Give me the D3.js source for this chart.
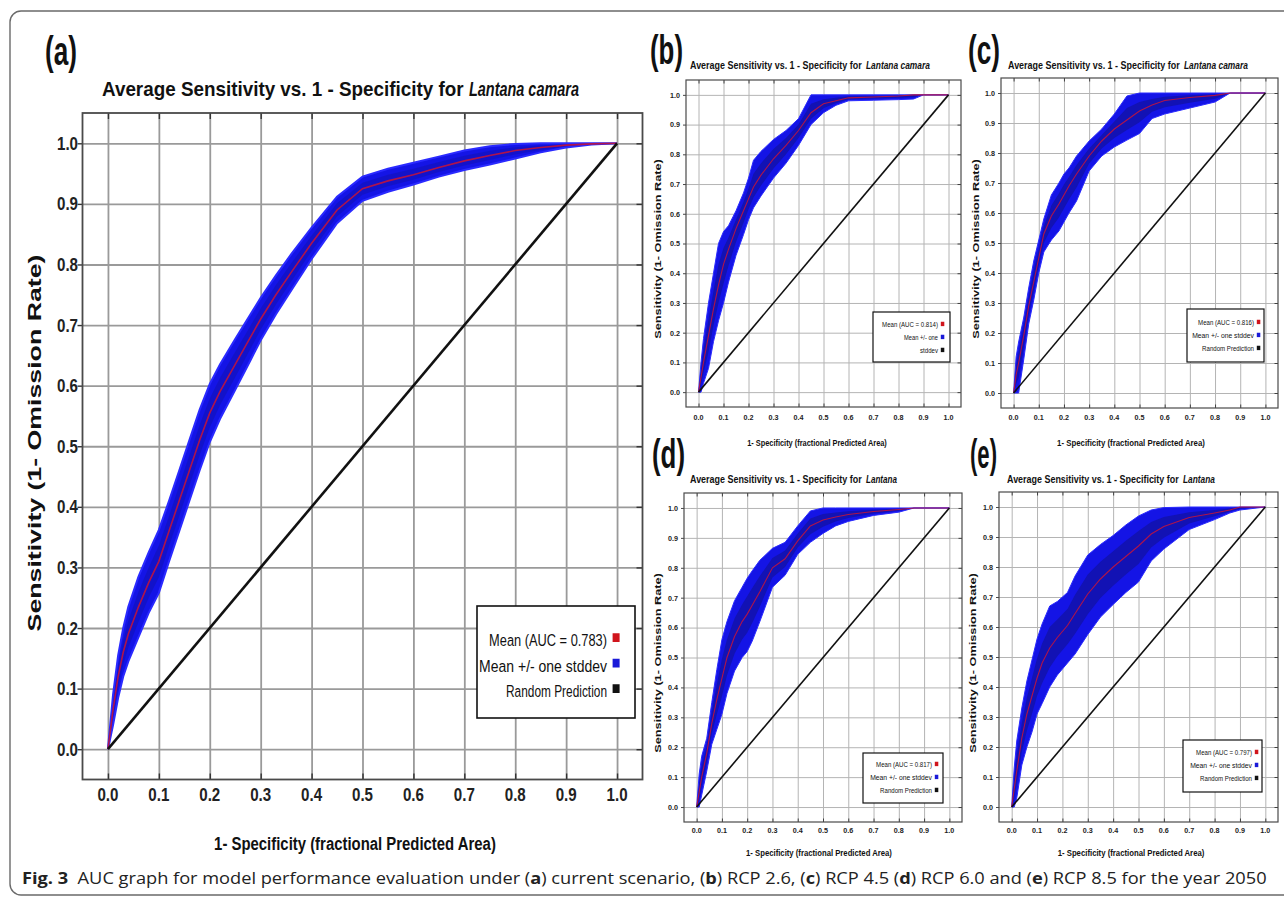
<!DOCTYPE html>
<html>
<head>
<meta charset="utf-8">
<script src="https://cdn.jsdelivr.net/npm/d3@7"></script>
<style>
body { margin: 0; background: #fff; }
svg text { font-family: "Liberation Sans", Arial, sans-serif; }
</style>
</head>
<body>
<svg id="fig" width="1284" height="902"></svg>
<script>
// tick values shared by every panel
var tickVals = [0, 0.1, 0.2, 0.3, 0.4, 0.5, 0.6, 0.7, 0.8, 0.9, 1.0];

// (a) current scenario
var xA    = [0, 0.01, 0.02, 0.03, 0.04, 0.06, 0.08, 0.1, 0.12, 0.14, 0.16, 0.18, 0.2, 0.22, 0.25, 0.28, 0.3, 0.33, 0.36, 0.4, 0.45, 0.5, 0.55, 0.6, 0.65, 0.7, 0.75, 0.8, 0.85, 0.9, 0.95, 1.0];
var meanA = [0, 0.065, 0.12, 0.16, 0.19, 0.235, 0.275, 0.31, 0.36, 0.41, 0.46, 0.51, 0.555, 0.59, 0.635, 0.68, 0.71, 0.75, 0.787, 0.835, 0.89, 0.925, 0.938, 0.948, 0.96, 0.971, 0.98, 0.988, 0.993, 0.997, 0.999, 1.0];
var hiA   = [0, 0.09, 0.155, 0.2, 0.235, 0.285, 0.325, 0.362, 0.41, 0.46, 0.51, 0.56, 0.603, 0.635, 0.677, 0.718, 0.745, 0.782, 0.817, 0.861, 0.912, 0.945, 0.958, 0.968, 0.978, 0.988, 0.995, 0.999, 1, 1, 1, 1];
var loA   = [0, 0.04, 0.085, 0.12, 0.145, 0.185, 0.225, 0.258, 0.31, 0.36, 0.41, 0.46, 0.507, 0.545, 0.593, 0.642, 0.675, 0.718, 0.757, 0.809, 0.868, 0.905, 0.92, 0.932, 0.945, 0.956, 0.965, 0.975, 0.985, 0.993, 0.998, 1];

// x grid used for the four small panels
var xS = [0, 0.01, 0.02, 0.04, 0.06, 0.08, 0.1, 0.12, 0.15, 0.18, 0.2, 0.22, 0.25, 0.3, 0.35, 0.4, 0.45, 0.5, 0.55, 0.6, 0.7, 0.8, 0.86, 0.9, 1.0];

// (b) RCP 2.6
var meanB = [0, 0.05, 0.1, 0.19, 0.28, 0.36, 0.43, 0.48, 0.55, 0.61, 0.65, 0.69, 0.73, 0.785, 0.83, 0.88, 0.94, 0.97, 0.98, 0.99, 0.993, 0.996, 1, 1, 1];
var hiB   = [0, 0.1, 0.18, 0.3, 0.4, 0.5, 0.54, 0.56, 0.61, 0.67, 0.72, 0.78, 0.81, 0.85, 0.88, 0.92, 1, 1, 1, 1, 1, 1, 1, 1, 1];
var loB   = [0, 0, 0.03, 0.08, 0.17, 0.24, 0.3, 0.37, 0.46, 0.53, 0.58, 0.62, 0.66, 0.72, 0.77, 0.83, 0.9, 0.94, 0.965, 0.98, 0.982, 0.984, 0.986, 1, 1];

// (c) RCP 4.5
var meanC = [0, 0.06, 0.1, 0.19, 0.29, 0.37, 0.45, 0.53, 0.59, 0.63, 0.66, 0.69, 0.73, 0.79, 0.84, 0.88, 0.91, 0.94, 0.96, 0.975, 0.985, 0.992, 1, 1, 1];
var hiC   = [0, 0.12, 0.17, 0.25, 0.35, 0.44, 0.51, 0.58, 0.66, 0.7, 0.73, 0.75, 0.79, 0.84, 0.88, 0.93, 0.99, 1, 1, 1, 1, 1, 1, 1, 1];
var loC   = [0, 0, 0, 0.11, 0.23, 0.31, 0.4, 0.47, 0.51, 0.54, 0.57, 0.6, 0.64, 0.74, 0.79, 0.82, 0.843, 0.865, 0.915, 0.93, 0.95, 0.97, 1, 1, 1];

// (d) RCP 6.0
var meanD = [0, 0.05, 0.1, 0.18, 0.28, 0.36, 0.43, 0.5, 0.57, 0.62, 0.645, 0.675, 0.72, 0.8, 0.83, 0.89, 0.94, 0.96, 0.97, 0.978, 0.988, 0.995, 1, 1, 1];
var hiD   = [0, 0.11, 0.17, 0.23, 0.35, 0.46, 0.56, 0.62, 0.69, 0.735, 0.765, 0.79, 0.825, 0.865, 0.885, 0.94, 0.99, 1, 1, 1, 1, 1, 1, 1, 1];
var loD   = [0, 0, 0.04, 0.12, 0.21, 0.26, 0.31, 0.38, 0.455, 0.5, 0.52, 0.555, 0.62, 0.735, 0.775, 0.845, 0.885, 0.915, 0.94, 0.955, 0.975, 0.986, 1, 1, 1];

// (e) RCP 8.5
var meanE = [0, 0.06, 0.12, 0.23, 0.31, 0.37, 0.43, 0.48, 0.53, 0.565, 0.585, 0.605, 0.645, 0.71, 0.76, 0.8, 0.835, 0.87, 0.91, 0.935, 0.965, 0.98, 0.99, 1, 1];
var hiE   = [0, 0.13, 0.22, 0.33, 0.42, 0.49, 0.56, 0.61, 0.67, 0.685, 0.7, 0.715, 0.77, 0.84, 0.875, 0.905, 0.94, 0.97, 0.99, 0.998, 1, 1, 1, 1, 1];
var loE   = [0, 0, 0.03, 0.14, 0.2, 0.25, 0.31, 0.345, 0.4, 0.44, 0.46, 0.48, 0.51, 0.575, 0.633, 0.675, 0.715, 0.75, 0.82, 0.86, 0.925, 0.958, 0.98, 0.99, 1];

// legend texts
var legendA = ["Mean (AUC = 0.783)", "Mean +/- one  stddev", "Random Prediction"];
var legendB = ["Mean (AUC = 0.814)", "Mean +/- one", "stddev"];
var legendC = ["Mean (AUC = 0.816)", "Mean +/- one  stddev", "Random Prediction"];
var legendD = ["Mean (AUC = 0.817)", "Mean +/- one  stddev", "Random Prediction"];
var legendE = ["Mean (AUC = 0.797)", "Mean +/- one  stddev", "Random Prediction"];
var legendColors = ["#d0141c", "#1a1ad8", "#111111"];

var titleLead = "Average Sensitivity vs. 1 - Specificity for";
var xTitle = "1- Specificity (fractional Predicted Area)";
var yTitle = "Sensitivity (1- Omission Rate)";

var svg = d3.select("#fig");

// squeeze a text horizontally to a given width (the source uses a narrow face)
function squeeze(sel, x, y, width, anchor, rot) {
    sel.attr("x", 0).attr("y", 0).attr("text-anchor", anchor || "start");
    var nat = sel.node().getComputedTextLength();
    var k = width / nat;
    sel.attr("transform", "translate(" + x + "," + y + ")" + (rot ? " rotate(-90)" : "") + " scale(" + k + ",1)");
    return sel;
}

// outer rounded frame of the figure
svg.append("rect")
    .attr("x", 10).attr("y", 11)
    .attr("width", 1320).attr("height", 884)
    .attr("rx", 11)
    .attr("fill", "none").attr("stroke", "#6a6a6a").attr("stroke-width", 1.4);

// layout of each panel (frame box + text placement)
var panels = [
    {xs: xA, mean: meanA, hi: hiA, lo: loA, legend: legendA, letter: "(a)", species: "Lantana camara",
     left: 82.5, right: 642.5, top: 113, bottom: 779.5, big: true,
     letterX: 45, letterY: 65, letterW: 32, letterSize: 40,
     titleX: 102, titleY: 96, titleW: 362, italX: 469, italW: 110, titleSize: 21,
     xlabX: 355, xlabY: 850, xlabW: 282, xlabSize: 19,
     ylabX: 35, ylabY: 443, ylabW: 377, ylabSize: 18,
     tickSize: 18, tickW: 21, xTickY: 801, yTickX: 78,
     leg: {x: 477, y: 606, w: 158, h: 112, size: 17, right: 607, sq: 7, line0: 646, dy: 25.5, tw: [118, 128, 101]}},
    {xs: xS, mean: meanB, hi: hiB, lo: loB, legend: legendB, letter: "(b)", species: "Lantana camara",
     left: 686, right: 961, top: 80, bottom: 407,
     letterX: 650, letterY: 64, letterW: 33, letterSize: 40,
     titleX: 690, titleY: 69, titleW: 172, italX: 866, italW: 64, titleSize: 11,
     xlabX: 817, xlabY: 446, xlabW: 140, xlabSize: 9,
     ylabX: 658, ylabY: 249, ylabW: 180, ylabSize: 9,
     tickSize: 8, tickW: 10, xTickY: 420, yTickX: 680,
     leg: {x: 873, y: 312, w: 77, h: 50, size: 7, right: 938, sq: 3.5, line0: 327, dy: 13, tw: [56, 34, 18]}},
    {xs: xS, mean: meanC, hi: hiC, lo: loC, legend: legendC, letter: "(c)", species: "Lantana camara",
     left: 1001, right: 1278, top: 78, bottom: 408,
     letterX: 968, letterY: 64, letterW: 32, letterSize: 40,
     titleX: 1008, titleY: 69, titleW: 172, italX: 1184, italW: 64, titleSize: 11,
     xlabX: 1131, xlabY: 446, xlabW: 148, xlabSize: 9,
     ylabX: 976, ylabY: 249, ylabW: 180, ylabSize: 9,
     tickSize: 8, tickW: 10, xTickY: 420, yTickX: 995,
     leg: {x: 1187, y: 309, w: 77, h: 53, size: 7, right: 1254, sq: 3.5, line0: 325, dy: 13, tw: [56, 62, 52]}},
    {xs: xS, mean: meanD, hi: hiD, lo: loD, legend: legendD, letter: "(d)", species: "Lantana",
     left: 684, right: 962, top: 493, bottom: 822,
     letterX: 652, letterY: 468, letterW: 33, letterSize: 40,
     titleX: 690, titleY: 483, titleW: 172, italX: 866, italW: 31, titleSize: 11,
     xlabX: 819, xlabY: 856, xlabW: 146, xlabSize: 9,
     ylabX: 658, ylabY: 663, ylabW: 180, ylabSize: 9,
     tickSize: 8, tickW: 10, xTickY: 833, yTickX: 678,
     leg: {x: 863, y: 753, w: 80, h: 50, size: 7, right: 932, sq: 3.5, line0: 767, dy: 13, tw: [56, 62, 52]}},
    {xs: xS, mean: meanE, hi: hiE, lo: loE, legend: legendE, letter: "(e)", species: "Lantana",
     left: 999, right: 1278, top: 492, bottom: 822,
     letterX: 970, letterY: 468, letterW: 27, letterSize: 40,
     titleX: 1007, titleY: 483, titleW: 172, italX: 1183, italW: 32, titleSize: 11,
     xlabX: 1131, xlabY: 856, xlabW: 147, xlabSize: 9,
     ylabX: 973, ylabY: 663, ylabW: 180, ylabSize: 9,
     tickSize: 8, tickW: 10, xTickY: 833, yTickX: 993,
     leg: {x: 1183, y: 740, w: 79, h: 52, size: 7, right: 1252, sq: 3.5, line0: 755, dy: 13, tw: [56, 62, 52]}}
];

panels.forEach(drawPanel);

function drawPanel(p) {
    var g = svg.append("g");
    var w = p.right - p.left, h = p.bottom - p.top;
    var x = d3.scaleLinear().domain([-0.05, 1.05]).range([p.left, p.right]);
    var y = d3.scaleLinear().domain([-0.05, 1.05]).range([p.bottom, p.top]);

    g.append("rect").attr("x", p.left).attr("y", p.top).attr("width", w).attr("height", h).attr("fill", "#fff");

    // grid lines
    var gx = g.append("g").attr("transform", "translate(0," + p.bottom + ")")
        .call(d3.axisBottom(x).tickValues(tickVals).tickSize(-h).tickFormat(""));
    var gy = g.append("g").attr("transform", "translate(" + p.left + ",0)")
        .call(d3.axisLeft(y).tickValues(tickVals).tickSize(-w).tickFormat(""));
    [gx, gy].forEach(function(s) {
        s.select(".domain").remove();
        s.selectAll("line").attr("stroke", p.big ? "#9a9a9a" : "#b4b4b4").attr("stroke-width", p.big ? 1.8 : 1);
    });

    // std band, darker core and mean line
    var pts = p.xs.map(function(v, i) { return {x: v, m: p.mean[i], lo: p.lo[i], hi: p.hi[i]}; });
    var band = d3.area().x(function(d) { return x(d.x); })
        .y0(function(d) { return y(d.lo); }).y1(function(d) { return y(d.hi); });
    var core = d3.area().x(function(d) { return x(d.x); })
        .y0(function(d) { return y((d.m + d.lo) / 2); }).y1(function(d) { return y((d.m + d.hi) / 2); });
    g.append("path").datum(pts).attr("d", band)
        .attr("fill", "#1414e6").attr("stroke", "#2a2aff").attr("stroke-width", p.big ? 2 : 1);
    g.append("path").datum(pts).attr("d", core)
        .attr("fill", "#10108a").attr("opacity", p.big ? 0.3 : 0.55);
    g.append("path").datum(pts)
        .attr("d", d3.line().x(function(d) { return x(d.x); }).y(function(d) { return y(d.m); }))
        .attr("fill", "none").attr("stroke", "#c0143e").attr("stroke-width", p.big ? 1.6 : 1.1).attr("opacity", 0.9);

    // random prediction diagonal
    g.append("line").attr("x1", x(0)).attr("y1", y(0)).attr("x2", x(1)).attr("y2", y(1))
        .attr("stroke", "#111").attr("stroke-width", p.big ? 2.6 : 1.6);

    // inward tick marks on bottom, top and right, outward on the left
    var tk = p.big ? 6 : 3.5;
    var tickAxes = [
        g.append("g").attr("transform", "translate(0," + p.bottom + ")").call(d3.axisTop(x).tickValues(tickVals).tickSize(tk).tickFormat("")),
        g.append("g").attr("transform", "translate(0," + p.top + ")").call(d3.axisBottom(x).tickValues(tickVals).tickSize(tk).tickFormat("")),
        g.append("g").attr("transform", "translate(" + p.right + ",0)").call(d3.axisLeft(y).tickValues(tickVals).tickSize(tk).tickFormat("")),
        g.append("g").attr("transform", "translate(" + p.left + ",0)").call(d3.axisLeft(y).tickValues(tickVals).tickSize(p.big ? 5 : 3).tickFormat(""))
    ];
    tickAxes.forEach(function(s) {
        s.select(".domain").remove();
        s.selectAll("line").attr("stroke", "#333").attr("stroke-width", p.big ? 1.4 : 0.9);
    });

    g.append("rect").attr("x", p.left).attr("y", p.top).attr("width", w).attr("height", h)
        .attr("fill", "none").attr("stroke", "#4a4a4a").attr("stroke-width", p.big ? 1.8 : 1.2);

    // tick labels
    var fmt = d3.format(".1f");
    tickVals.forEach(function(v) {
        squeeze(g.append("text").attr("font-size", p.tickSize).attr("font-weight", "bold").attr("fill", "#222").text(fmt(v)),
            x(v), p.xTickY, p.tickW, "middle");
        squeeze(g.append("text").attr("font-size", p.tickSize).attr("font-weight", "bold").attr("fill", "#222").text(fmt(v)),
            p.yTickX, y(v) + p.tickSize * 0.36, p.tickW, "end");
    });

    // axis titles
    squeeze(g.append("text").attr("font-size", p.xlabSize).attr("font-weight", "bold").attr("fill", "#111").text(xTitle),
        p.xlabX, p.xlabY, p.xlabW, "middle");
    squeeze(g.append("text").attr("dy", "0.35em").attr("font-size", p.ylabSize).attr("font-weight", "bold")
        .attr("fill", "#111").text(yTitle), p.ylabX, p.ylabY, p.ylabW, "middle", true);

    // panel title, species name in italics
    squeeze(g.append("text").attr("font-size", p.titleSize).attr("font-weight", "bold").attr("fill", "#111").text(titleLead),
        p.titleX, p.titleY, p.titleW, "start");
    squeeze(g.append("text").attr("font-size", p.titleSize).attr("font-weight", "bold").attr("font-style", "italic")
        .attr("fill", "#111").text(p.species), p.italX, p.titleY, p.italW, "start");

    // panel letter
    squeeze(g.append("text").attr("font-size", p.letterSize).attr("font-weight", "bold").attr("fill", "#111").text(p.letter),
        p.letterX, p.letterY, p.letterW, "start");

    // legend
    var L = p.leg;
    g.append("rect").attr("x", L.x).attr("y", L.y).attr("width", L.w).attr("height", L.h)
        .attr("fill", "#fff").attr("stroke", "#111").attr("stroke-width", p.big ? 1.6 : 1.2);
    p.legend.forEach(function(s, i) {
        var ly = L.line0 + i * L.dy;
        squeeze(g.append("text").attr("font-size", L.size).attr("fill", "#111").text(s), L.right, ly, L.tw[i], "end");
        g.append("rect").attr("x", L.right + L.sq * 0.8).attr("y", ly - L.size * 0.75)
            .attr("width", L.sq).attr("height", L.sq * 1.25).attr("fill", legendColors[i]);
    });
}

// caption
var cap = svg.append("text")
    .style("font-family", "'Open Sans', 'Noto Sans', sans-serif")
    .attr("font-size", 16).attr("fill", "#222");
var capParts = [
    ["Fig. 3", true], ["  AUC graph for model performance evaluation under (", false], ["a", true],
    [") current scenario, (", false], ["b", true], [") RCP 2.6, (", false], ["c", true],
    [") RCP 4.5 (", false], ["d", true], [") RCP 6.0 and (", false], ["e", true],
    [") RCP 8.5 for the year 2050", false]
];
capParts.forEach(function(c) {
    cap.append("tspan").attr("font-weight", c[1] ? "bold" : "normal").attr("xml:space", "preserve").text(c[0]);
});
squeeze(cap, 22, 884, 1246, "start");
</script>
</body>
</html>
